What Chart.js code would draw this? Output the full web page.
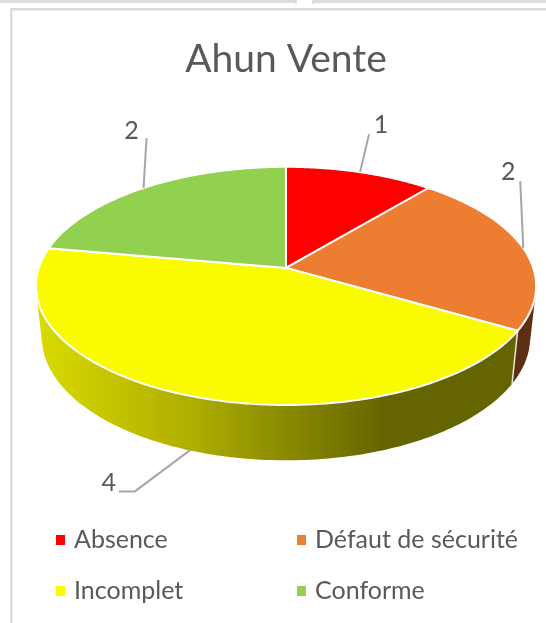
<!DOCTYPE html>
<html lang="fr">
<head>
    <meta charset="UTF-8">
    <title>Ahun Vente</title>
    <script src="https://cdn.jsdelivr.net/npm/chart.js"></script>
    <style>
        html, body { margin: 0; padding: 0; background: #ffffff; overflow: hidden; }
        canvas { display: block; }
    </style>
</head>
<body>
    <canvas id="pie" width="546" height="623"></canvas>

    <script>
        const categories = ["Absence", "Défaut de sécurité", "Incomplet", "Conforme"];
        const values = [1, 2, 4, 2];
        const topColors = ["#ff0000", "#ed7d31", "#fbfb00", "#92d050"];
        const sideColors = ["#991a00", "#5e2f12", "#666600", "#587d30"];

        const fontName = "Lato, 'Open Sans', sans-serif";
        const textColor = "#595959";
        const leaderColor = "#a6a6a6";

        // the tilted disc: a projective map of the library's round pie
        const tilt = 0.151;
        const scaleX = 247.1 / 178;
        const scaleY = 116.3 / 178;
        const wallDrop = 51;
        const floorX = 0.976;
        const floorY = 1.032;

        // where each data label and its leader elbow sit, relative to the slice
        const labelOffsets = [
            { elbow: [9, -38], text: [21, -47] },
            { elbow: [-3, -67], text: [-15, -76] },
            { elbow: [-55, 41], text: [-81, 33], foot: [-71, 41] },
            { elbow: [3, -50], text: [-12, -57] }
        ];
        const legendSpots = [[56, 540], [297, 540], [56, 591], [297, 591]];

        function project(arc, angle, floor) {
            const u = Math.cos(angle), v = Math.sin(angle);
            const d = 1 - tilt * v;
            const sx = floor ? floorX : 1, sy = floor ? floorY : 1;
            return [
                arc.x + arc.outerRadius * scaleX * sx * u / d,
                arc.y + (floor ? wallDrop : 0) + arc.outerRadius * scaleY * sy * v / d
            ];
        }

        // twice the signed area, to keep every wall quad wound the same way
        function quadArea(pts) {
            let sum = 0;
            pts.forEach((p, i) => {
                const n = pts[(i + 1) % pts.length];
                sum += p[0] * n[1] - n[0] * p[1];
            });
            return sum;
        }

        const tiltedPie = {
            id: "tiltedPie",
            beforeDraw(chart) {
                // frame of the surrounding sheet
                const c = chart.ctx;
                c.save();
                c.fillStyle = "#dcdcdc";
                c.fillRect(10, 8, 536, 2.5);
                c.fillRect(10, 8, 2.5, 615);
                c.fillRect(0, 0, 297, 3);
                c.fillRect(295, 0, 2, 4);
                c.fillRect(312, 0, 234, 3);
                c.fillRect(312, 0, 2, 4);
                c.restore();
            },
            beforeDatasetsDraw(chart) {
                const c = chart.ctx;
                const arcs = chart.getDatasetMeta(0).data;
                c.save();

                // walls first, shaded with a left to right gradient on the yellow one
                const grad = c.createLinearGradient(38, 0, 385, 0);
                grad.addColorStop(0, "#dada00");
                grad.addColorStop(0.45, "#adad00");
                grad.addColorStop(1, "#646400");

                // one path of small quads so the outer edge fills out between the two rims
                arcs.forEach((arc, i) => {
                    c.fillStyle = i === 2 ? grad : sideColors[i];
                    c.beginPath();
                    const steps = 160;
                    for (let s = 0; s < steps; s++) {
                        const a0 = arc.startAngle + (arc.endAngle - arc.startAngle) * s / steps;
                        const a1 = arc.startAngle + (arc.endAngle - arc.startAngle) * (s + 1) / steps;
                        const quad = [project(arc, a0, false), project(arc, a1, false),
                                      project(arc, a1, true), project(arc, a0, true)];
                        if (quadArea(quad) < 0) quad.reverse();
                        c.moveTo(quad[0][0], quad[0][1]);
                        c.lineTo(quad[1][0], quad[1][1]);
                        c.lineTo(quad[2][0], quad[2][1]);
                        c.lineTo(quad[3][0], quad[3][1]);
                        c.closePath();
                    }
                    c.fill();
                });

                // pale seam where the yellow wall meets the brown one
                const seamAngle = arcs[2].startAngle;
                const s1 = project(arcs[2], seamAngle, false);
                const s2 = project(arcs[2], seamAngle, true);
                c.strokeStyle = "#e8e8d8";
                c.lineWidth = 1.5;
                c.beginPath();
                c.moveTo(s1[0], s1[1]);
                c.lineTo(s2[0], s2[1]);
                c.stroke();

                // top face
                arcs.forEach((arc, i) => {
                    c.fillStyle = topColors[i];
                    c.strokeStyle = "#ffffff";
                    c.lineWidth = 2;
                    c.lineJoin = "round";
                    c.beginPath();
                    c.moveTo(arc.x, arc.y);
                    const steps = 120;
                    for (let s = 0; s <= steps; s++) {
                        const a = arc.startAngle + (arc.endAngle - arc.startAngle) * s / steps;
                        const p = project(arc, a, false);
                        c.lineTo(p[0], p[1]);
                    }
                    c.closePath();
                    c.fill();
                    c.stroke();
                });

                c.restore();
                return false;
            },
            afterDraw(chart) {
                const c = chart.ctx;
                const arcs = chart.getDatasetMeta(0).data;
                c.save();

                // leader lines and data labels
                arcs.forEach((arc, i) => {
                    const mid = (arc.startAngle + arc.endAngle) / 2;
                    const onFloor = Math.sin(mid) > 0.5;
                    const start = project(arc, mid, onFloor);
                    const off = labelOffsets[i];
                    c.strokeStyle = leaderColor;
                    c.lineWidth = 2;
                    c.beginPath();
                    c.moveTo(start[0], start[1]);
                    c.lineTo(start[0] + off.elbow[0], start[1] + off.elbow[1]);
                    if (off.foot) c.lineTo(start[0] + off.foot[0], start[1] + off.foot[1]);
                    c.stroke();

                    c.fillStyle = textColor;
                    c.font = "25px " + fontName;
                    c.textAlign = "center";
                    c.textBaseline = "middle";
                    c.fillText(String(values[i]), start[0] + off.text[0], start[1] + off.text[1]);
                });

                // 2x2 legend
                c.font = "25px " + fontName;
                c.textAlign = "left";
                c.textBaseline = "middle";
                categories.forEach((name, i) => {
                    const spot = legendSpots[i];
                    c.fillStyle = topColors[i];
                    c.fillRect(spot[0], spot[1] - 5, 9, 10);
                    c.fillStyle = textColor;
                    c.fillText(name, spot[0] + 18, spot[1]);
                });

                c.restore();
            }
        };

        new Chart(document.getElementById("pie"), {
            type: "pie",
            data: {
                labels: categories,
                datasets: [{ data: values, backgroundColor: topColors, borderWidth: 0 }]
            },
            options: {
                responsive: false,
                animation: false,
                layout: { padding: { left: 36, right: 10, top: 36, bottom: 177 } },
                plugins: {
                    legend: { display: false },
                    tooltip: { enabled: false },
                    title: {
                        display: true,
                        text: "Ahun Vente",
                        color: textColor,
                        font: { family: fontName, size: 39, weight: "normal" },
                        padding: { top: 0, bottom: 7 }
                    }
                }
            },
            plugins: [tiltedPie]
        });
    </script>
</body>
</html>
